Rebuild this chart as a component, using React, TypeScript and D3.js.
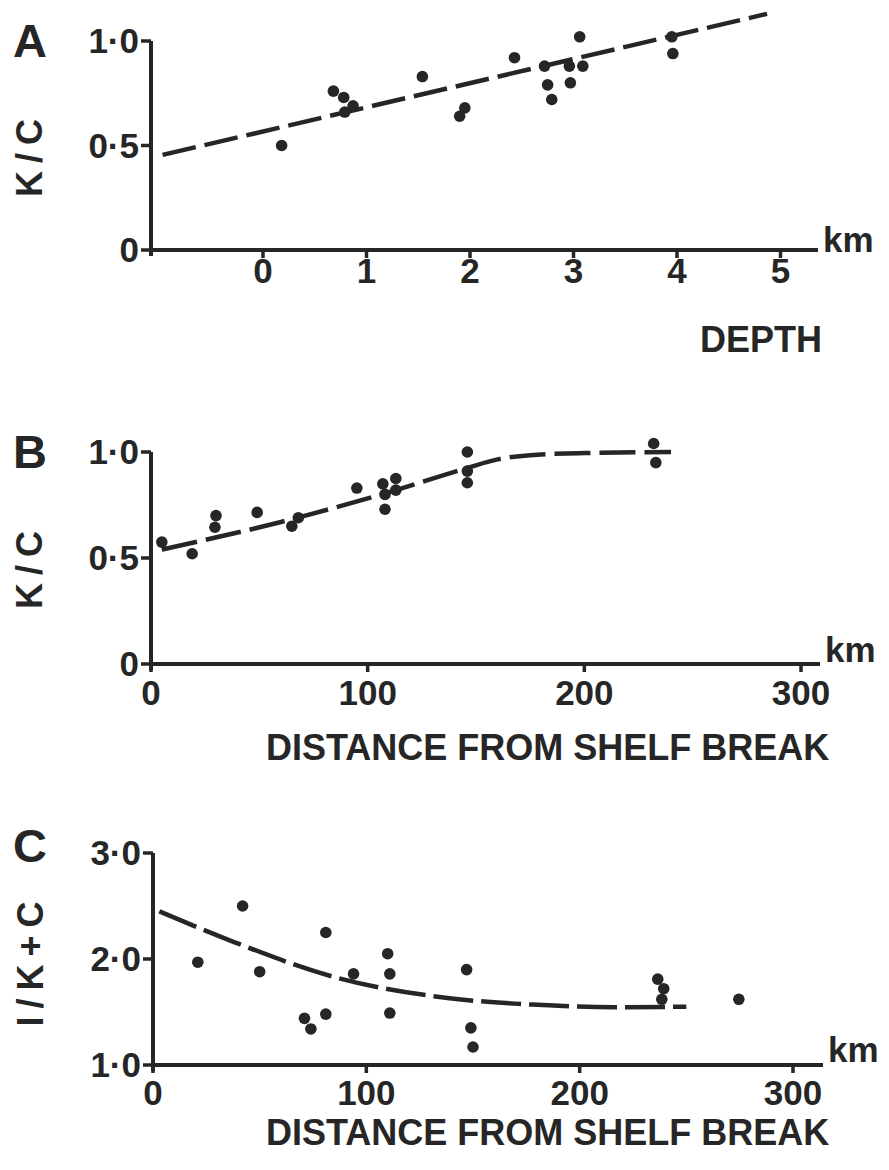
import React from "react";
import * as d3 from "d3";

// ---------- DATA ----------
// Panel A: K/C vs depth (km)
const depthA = [0.18, 0.68, 0.78, 0.79, 0.87, 1.54, 1.9, 1.95, 2.43, 2.72, 2.75, 2.79, 2.96, 2.97, 3.06, 3.09, 3.95, 3.96];
const kcA = [0.5, 0.76, 0.73, 0.66, 0.69, 0.83, 0.64, 0.68, 0.92, 0.88, 0.79, 0.72, 0.88, 0.8, 1.02, 0.88, 1.02, 0.94];
const fitA_x = [-0.97, 4.87];
const fitA_y = [0.455, 1.13];

// Panel B: K/C vs distance from shelf break (km)
const distB = [5, 19, 29.5, 30, 49, 65, 68, 95, 107, 108, 108, 113, 113, 146, 146, 146, 232, 233];
const kcB = [0.575, 0.52, 0.645, 0.7, 0.715, 0.65, 0.69, 0.83, 0.85, 0.8, 0.73, 0.875, 0.82, 1.0, 0.91, 0.855, 1.04, 0.95];
const fitB_x = [5, 60, 113, 146, 160, 175, 200, 240];
const fitB_y = [0.54, 0.67, 0.82, 0.925, 0.965, 0.985, 0.995, 1.0];

// Panel C: 1/K+C vs distance from shelf break (km)
const distC = [21, 42, 50, 71, 74, 81, 81, 94, 110, 111, 111, 147, 149, 150, 236.6, 238.5, 239.4, 274.6];
const valC = [1.97, 2.5, 1.88, 1.44, 1.34, 2.25, 1.48, 1.86, 2.05, 1.86, 1.49, 1.9, 1.35, 1.17, 1.81, 1.62, 1.72, 1.62];
const fitC_x = [3, 38, 85, 139, 178, 216, 250];
const fitC_y = [2.45, 2.16, 1.83, 1.63, 1.57, 1.545, 1.55];

const ticksA_y = [0, 0.5, 1];
const ticksA_yLabels = ["0", "0·5", "1·0"];
const ticksA_x = [0, 1, 2, 3, 4, 5];
const ticksB_y = [0, 0.5, 1];
const ticksB_yLabels = ["0", "0·5", "1·0"];
const ticksB_x = [0, 100, 200, 300];
const ticksC_y = [1, 2, 3];
const ticksC_yLabels = ["1·0", "2·0", "3·0"];
const ticksC_x = [0, 100, 200, 300];

const INK = "#262626";
const FONT = "'Liberation Sans', Arial, Helvetica, sans-serif";

type PanelProps = {
  letter: string;
  letterPos: [number, number];
  yLabel: string;
  yLabelPos: [number, number];
  xLabel: string;
  xLabelPos: [number, number];
  x: d3.ScaleLinear<number, number>;
  y: d3.ScaleLinear<number, number>;
  xAxisStart: number;
  xAxisEnd: number;
  yTop: number;
  yTicks: number[];
  yTickLabels: string[];
  xTicks: number[];
  xTickBaseline: number;
  kmBaseline: number;
  px: number[];
  py: number[];
  fx: number[];
  fy: number[];
  curve: d3.CurveFactory;
  dash: string;
};

function Panel(p: PanelProps) {
  const axisX = p.x(p.xAxisStart);
  const axisY = p.y.range()[0];
  const pts = p.px.map((v, i) => [p.x(v), p.y(p.py[i])] as [number, number]);
  const fit = p.fx.map((v, i) => [v, p.fy[i]] as [number, number]);
  const line = d3
    .line<[number, number]>()
    .x((d) => p.x(d[0]))
    .y((d) => p.y(d[1]))
    .curve(p.curve);
  const endX = p.x(p.xAxisEnd);
  return (
    <g fontFamily={FONT} fontWeight="bold" fill={INK}>
      <text x={p.letterPos[0]} y={p.letterPos[1]} fontSize={47}>
        {p.letter}
      </text>
      <text
        transform={`translate(${p.yLabelPos[0]},${p.yLabelPos[1]}) rotate(-90)`}
        textAnchor="middle"
        fontSize={36}
        letterSpacing={8}
      >
        {p.yLabel}
      </text>
      {/* axes */}
      <line x1={axisX} x2={axisX} y1={p.y(p.yTop)} y2={axisY + 6} stroke={INK} strokeWidth={4} />
      <line x1={axisX - 2} x2={endX} y1={axisY} y2={axisY} stroke={INK} strokeWidth={4} />
      {p.yTicks.map((t, i) => (
        <g key={"yt" + i}>
          <line x1={axisX - 10} x2={axisX} y1={p.y(t)} y2={p.y(t)} stroke={INK} strokeWidth={3.5} />
          <text x={axisX - 12} y={p.y(t) + 12} textAnchor="end" fontSize={35}>
            {p.yTickLabels[i]}
          </text>
        </g>
      ))}
      {p.xTicks.map((t, i) => (
        <g key={"xt" + i}>
          <line x1={p.x(t)} x2={p.x(t)} y1={axisY} y2={axisY + 8} stroke={INK} strokeWidth={3.5} />
          <text x={p.x(t)} y={p.xTickBaseline} textAnchor="middle" fontSize={35}>
            {String(t)}
          </text>
        </g>
      ))}
      <text x={endX + 5} y={p.kmBaseline} fontSize={35}>
        km
      </text>
      <text x={p.xLabelPos[0]} y={p.xLabelPos[1]} fontSize={36}>
        {p.xLabel}
      </text>
      {/* fitted dashed curve */}
      <path
        d={line(fit) || ""}
        fill="none"
        stroke={INK}
        strokeWidth={4.5}
        strokeDasharray={p.dash}
      />
      {pts.map((d, i) => (
        <circle key={"p" + i} cx={d[0]} cy={d[1]} r={5.8} fill={INK} />
      ))}
    </g>
  );
}

export default function App() {
  const xA = d3.scaleLinear().domain([0, 5]).range([263, 780.5]);
  const yA = d3.scaleLinear().domain([0, 1]).range([250, 41]);
  const xB = d3.scaleLinear().domain([0, 300]).range([151, 801]);
  const yB = d3.scaleLinear().domain([0, 1]).range([664, 452]);
  const xC = d3.scaleLinear().domain([0, 300]).range([153, 793]);
  const yC = d3.scaleLinear().domain([1, 3]).range([1065, 853]);

  return (
    <svg
      width={889}
      height={1170}
      viewBox="0 0 889 1170"
      style={{ position: "absolute", left: 0, top: 0, background: "#fff" }}
    >
      <rect width={889} height={1170} fill="#fff" />
      <Panel
        letter="A"
        letterPos={[13, 57]}
        yLabel="K/C"
        yLabelPos={[42, 154]}
        xLabel="DEPTH"
        xLabelPos={[700, 352]}
        x={xA}
        y={yA}
        xAxisStart={xA.invert(151)}
        xAxisEnd={xA.invert(818)}
        yTop={1}
        yTicks={ticksA_y}
        yTickLabels={ticksA_yLabels}
        xTicks={ticksA_x}
        xTickBaseline={283}
        kmBaseline={252}
        px={depthA}
        py={kcA}
        fx={fitA_x}
        fy={fitA_y}
        curve={d3.curveLinear}
        dash="34 9"
      />
      <Panel
        letter="B"
        letterPos={[13, 468]}
        yLabel="K/C"
        yLabelPos={[42, 566]}
        xLabel="DISTANCE FROM SHELF BREAK"
        xLabelPos={[266, 760]}
        x={xB}
        y={yB}
        xAxisStart={0}
        xAxisEnd={xB.invert(820)}
        yTop={1}
        yTicks={ticksB_y}
        yTickLabels={ticksB_yLabels}
        xTicks={ticksB_x}
        xTickBaseline={705}
        kmBaseline={662}
        px={distB}
        py={kcB}
        fx={fitB_x}
        fy={fitB_y}
        curve={d3.curveMonotoneX}
        dash="36 9"
      />
      <Panel
        letter="C"
        letterPos={[13, 862]}
        yLabel="I/K+C"
        yLabelPos={[43, 960]}
        xLabel="DISTANCE FROM SHELF BREAK"
        xLabelPos={[266, 1145]}
        x={xC}
        y={yC}
        xAxisStart={0}
        xAxisEnd={xC.invert(823)}
        yTop={3}
        yTicks={ticksC_y}
        yTickLabels={ticksC_yLabels}
        xTicks={ticksC_x}
        xTickBaseline={1105}
        kmBaseline={1062}
        px={distC}
        py={valC}
        fx={fitC_x}
        fy={fitC_y}
        curve={d3.curveMonotoneX}
        dash="40 8"
      />
    </svg>
  );
}
